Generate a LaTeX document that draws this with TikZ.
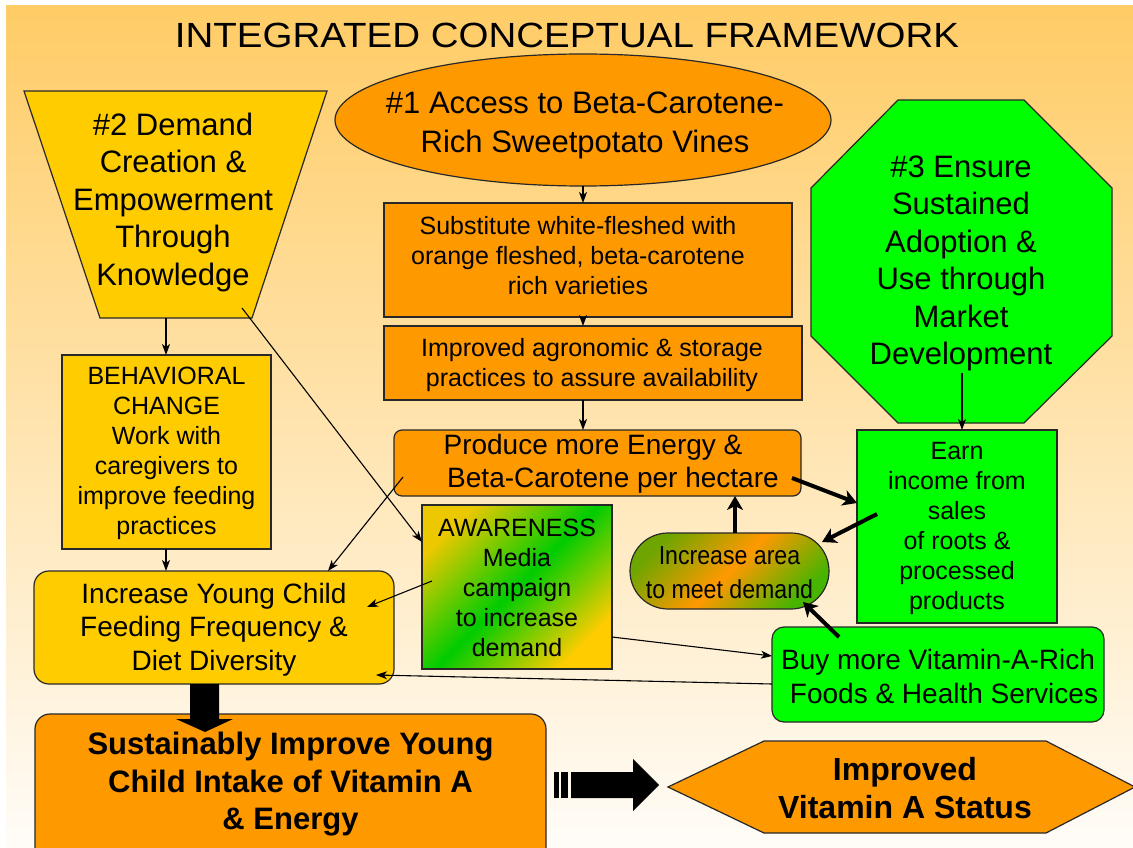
\documentclass[tikz,border=0pt]{standalone}
\usepackage{fontspec}
\setmainfont{Liberation Sans}
\newfontfamily\titlefont[FakeStretch=1.1]{Liberation Sans}
\newfontfamily\narrowfont[FakeStretch=0.89]{Liberation Sans}
\usetikzlibrary{arrows.meta,shapes.geometric,calc}
\definecolor{bgtop}{RGB}{255,204,102}
\definecolor{bgbot}{RGB}{255,252,248}
\definecolor{gold}{RGB}{255,204,0}
\definecolor{orng}{RGB}{255,153,0}
\definecolor{lime}{RGB}{0,255,0}
\definecolor{awgreen}{RGB}{0,204,0}
\definecolor{awyellow}{RGB}{235,200,0}
\definecolor{iagreen}{RGB}{110,165,0}
\definecolor{iagreenb}{RGB}{70,180,0}
\definecolor{edge}{RGB}{40,40,40}
\begin{document}
\begin{tikzpicture}[x=1pt,y=-1pt,
  box/.style={draw=edge, line width=1.2pt, inner sep=0pt, outer sep=0pt},
  txt/.style={align=center, inner sep=0pt, text=black},
  f25/.style={font=\fontsize{25}{30}\selectfont},
  f28/.style={font=\fontsize{28}{33.5}\selectfont},
  f31/.style={font=\fontsize{31}{37.5}\selectfont},
  fbold/.style={font=\fontsize{31}{37.5}\selectfont\bfseries},
  thinarr/.style={draw=black, line width=1.1pt, -{Stealth[length=11pt,width=8pt,inset=3pt]}},
  thickarr/.style={draw=black, line width=4pt, -{Stealth[length=14pt,width=16pt,inset=4pt]}},
]
\useasboundingbox (0,0) rectangle (1133,848);
% background
\fill[white] (0,0) rectangle (1133,848);
\shade[top color=bgtop, bottom color=bgbot] (6,6) rectangle (1133,848);

% title
\node[txt] (title) at (567,35) {\titlefont\fontsize{35}{35}\selectfont INTEGRATED CONCEPTUAL FRAMEWORK};

% #2 trapezoid
\draw[draw=edge, line width=1.2pt, fill=gold] (24,91) -- (327,91) -- (252,318) -- (100,318) -- cycle;
\node[txt,f31] (demand) at (173,202) {\#2 Demand\\Creation \&\\Empowerment\\Through\\Knowledge};
\coordinate (trapbot) at (166,318);
\coordinate (trapin) at (242,308);

% #1 ellipse
\node[box, ellipse, fill=orng, minimum width=496pt, minimum height=132pt] (access) at (583,120) {};
\node[txt,f31, font=\fontsize{31}{39}\selectfont] (accesstxt) at (585,125.5) {\#1 Access to Beta-Carotene-\\Rich Sweetpotato Vines};

% #3 octagon
\draw[draw=edge, line width=1.2pt, fill=lime] (898,100) -- (1024,100) -- (1112,188) -- (1112,336) -- (1024,423) -- (898,423) -- (811,336) -- (811,188) -- cycle;
\node[txt,f31] (ensure) at (961,263.5) {\#3 Ensure\\Sustained\\Adoption \&\\Use through\\Market\\Development};
\coordinate (octin) at (962,373);

% central column
\node[box, fill=orng, minimum width=408pt, minimum height=114pt] (subst) at (588,260) {};
\node[txt,f25] (substtxt) at (578,256) {Substitute white-fleshed with\\orange fleshed, beta-carotene\\rich varieties};

\node[box, fill=orng, minimum width=418pt, minimum height=74pt] (improved) at (593,363) {};
\node[txt,f25] (improvedtxt) at (592,365) {Improved agronomic \& storage\\practices to assure availability};

\node[box, fill=orng, rounded corners=8pt, minimum width=407pt, minimum height=66pt] (produce) at (597.5,463) {};
\node[txt,f28] (producetxt) at (603,464) {Produce more Energy \&\hspace*{20pt}\\\hspace*{20pt}Beta-Carotene per hectare};

% left column
\node[box, fill=gold, minimum width=209pt, minimum height=194pt] (behav) at (166.5,452) {};
\node[txt,f25] (behavtxt) at (166.5,453) {BEHAVIORAL\\CHANGE\\Work with\\caregivers to\\improve feeding\\practices};

\node[box, fill=gold, rounded corners=15pt, minimum width=360pt, minimum height=113pt] (young) at (214,627.5) {};
\node[txt,f28] (youngtxt) at (214,629.5) {Increase Young Child\\Feeding Frequency \&\\Diet Diversity};

% awareness
\node[box, minimum width=190pt, minimum height=164pt, left color=awyellow, right color=gold, middle color=awgreen, shading angle=45] (aware) at (517,587) {};
\node[txt,f25] (awaretxt) at (517,587.5) {AWARENESS\\Media\\campaign\\to increase\\demand};

% increase area
\node[box, rounded corners=38pt, minimum width=199pt, minimum height=76pt, left color=iagreen, right color=iagreenb, middle color=orng, shading angle=45] (incarea) at (729.5,571) {};
\node[txt, font=\narrowfont\fontsize{26}{34}\selectfont] (incareatxt) at (729.5,573) {Increase area\\to meet demand};

% earn
\node[box, fill=lime, minimum width=200pt, minimum height=193pt] (earn) at (957,526.5) {};
\node[txt,f25] (earntxt) at (957,528.5) {Earn\\income from\\sales\\of roots \&\\processed\\products};

% buy
\node[box, fill=lime, rounded corners=12pt, minimum width=332pt, minimum height=95pt] (buy) at (938,674.5) {};
\node[txt,f28] (buytxt) at (941,676.5) {Buy more Vitamin-A-Rich\hspace*{6pt}\\\hspace*{6pt}Foods \& Health Services};

% bottom
\node[box, fill=orng, rounded corners=15pt, minimum width=511pt, minimum height=156pt] (sust) at (290.5,792) {};
\node[txt,fbold] (susttxt) at (290.5,784.5) {Sustainably Improve Young\\Child Intake of Vitamin A\\\& Energy};

\draw[draw=edge, line width=1.2pt, fill=orng] (668,787) -- (764,741) -- (1046,741) -- (1135,787) -- (1046,833) -- (764,833) -- cycle;
\node[txt, font=\fontsize{32}{38}\selectfont\bfseries] (status) at (905,788) {Improved\\Vitamin A Status};

% thin connectors
\draw[thinarr] (access.south) -- (access.south |- subst.north);
\draw[thinarr] (access.south |- subst.south) -- (access.south |- improved.north);
\draw[thinarr] (access.south |- improved.south) -- (access.south |- produce.north);
\draw[thinarr] (trapbot) -- (trapbot |- behav.north);
\draw[thinarr] (trapbot |- behav.south) -- (trapbot |- young.north);
\draw[thinarr] (octin) -- (octin |- earn.north);
\draw[thinarr] (trapin) -- ([yshift=-37pt]aware.north west);
\draw[thinarr] ([xshift=9pt,yshift=19pt]produce.south west) -- ([xshift=114pt]young.north);
\draw[thinarr] ([xshift=10pt,yshift=6pt]aware.west) -- ([xshift=-27pt,yshift=20.5pt]young.east);
\draw[thinarr] ([yshift=-50pt]aware.east) -- ([yshift=18.5pt]buy.west);
\draw[thinarr] ([yshift=-9.5pt]buy.west) -- ([xshift=-18pt,yshift=9pt]young.south east);

% thick connectors
\draw[thickarr] ([xshift=-9pt,yshift=-15pt]produce.east) -- ([yshift=23.5pt]earn.west);
\draw[thickarr] ([xshift=20pt,yshift=12.5pt]earn.west) -- ([xshift=92.5pt,yshift=29pt]incarea.center);
\draw[thickarr] ([xshift=67pt,yshift=-10pt]buy.north west) -- ([xshift=73.5pt,yshift=-31pt]incarea.center);
\draw[thickarr] ([xshift=5.5pt]incarea.north) -- ([xshift=5.5pt]incarea.north |- produce.south);

% block arrows
\fill[black] (190,684) -- (219,684) -- (219,719) -- (233,719) -- (205,732) -- (176,719) -- (190,719) -- cycle;
\fill[black] (554,772) rectangle (559,798);
\fill[black] (561,772) rectangle (568,798);
\fill[black] (571,772) -- (633,772) -- (633,759) -- (659,785) -- (633,811) -- (633,798) -- (571,798) -- cycle;
\end{tikzpicture}
\end{document}
